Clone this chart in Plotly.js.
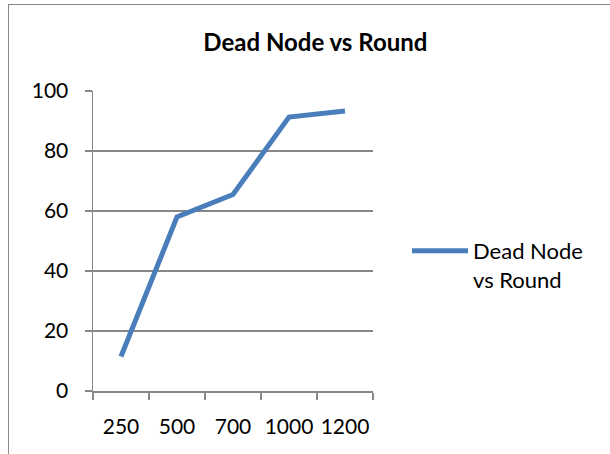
<!DOCTYPE html>
<html>
<head>
<meta charset="utf-8">
<script src="https://cdn.plot.ly/plotly-3.0.1.min.js"></script>
<style>
  html, body { margin: 0; padding: 0; overflow: hidden; background: #fff; }
  #chart { width: 610px; height: 454px; position: absolute; left: 0; top: 0; }
  #frame { position: absolute; left: 8px; top: 4px; width: 700px; height: 600px;
           border: 1.5px solid #8a8a8a; pointer-events: none; }
</style>
</head>
<body>
<div id="chart"></div>
<div id="frame"></div>
<script>
const rounds = ["250", "500", "700", "1000", "1200"];
const deadNodes = [11.5, 58, 65.5, 91.3, 93.3];
const seriesName = "Dead Node<br>vs Round";
const chartTitle = "Dead Node vs Round";
const yTicks = [0, 20, 40, 60, 80, 100];

const FONT = "Lato, Carlito, Calibri, 'Open Sans', sans-serif";

const trace = {
  x: rounds,
  y: deadNodes,
  type: "scatter",
  mode: "lines",
  name: seriesName,
  line: { color: "#4a7ebb", width: 5 }
};

const layout = {
  width: 610,
  height: 454,
  paper_bgcolor: "#ffffff",
  plot_bgcolor: "#ffffff",
  margin: { l: 93, r: 237, t: 91, b: 63, pad: 0 },
  font: { family: FONT, size: 21, color: "#000000" },
  title: {
    text: "<b>" + chartTitle + "</b>",
    font: { family: FONT, size: 24, color: "#000000" },
    xref: "container", yref: "container",
    x: 0.517, xanchor: "center",
    y: 1 - 43 / 454, yanchor: "middle"
  },
  xaxis: {
    type: "category",
    range: [-0.5, rounds.length - 0.5],
    tickson: "boundaries",
    tickangle: 0,
    ticks: "outside",
    ticklen: 7,
    tickwidth: 1.5,
    tickcolor: "#878787",
    showline: true,
    linecolor: "#878787",
    linewidth: 1.5,
    showgrid: false,
    zeroline: false,
    fixedrange: true,
    ticklabelstandoff: 16,
    tickfont: { family: FONT, size: 21, color: "#000" }
  },
  yaxis: {
    range: [0, 100],
    tickvals: yTicks,
    ticks: "outside",
    ticklen: 7,
    tickwidth: 1.5,
    tickcolor: "#878787",
    showline: true,
    linecolor: "#878787",
    linewidth: 1.5,
    showgrid: true,
    gridcolor: "#878787",
    gridwidth: 1.5,
    zeroline: false,
    fixedrange: true,
    ticklabelstandoff: 12,
    tickfont: { family: FONT, size: 21, color: "#000" }
  },
  showlegend: true,
  legend: {
    x: (407 - 93) / 280,
    xanchor: "left",
    y: 1 - (230 - 91) / 300,
    yanchor: "top",
    valign: "top",
    itemwidth: 56,
    bgcolor: "rgba(0,0,0,0)",
    borderwidth: 0,
    font: { family: FONT, size: 22, color: "#000" }
  }
};

Plotly.newPlot("chart", [trace], layout, { staticPlot: true, displayModeBar: false });
</script>
</body>
</html>
